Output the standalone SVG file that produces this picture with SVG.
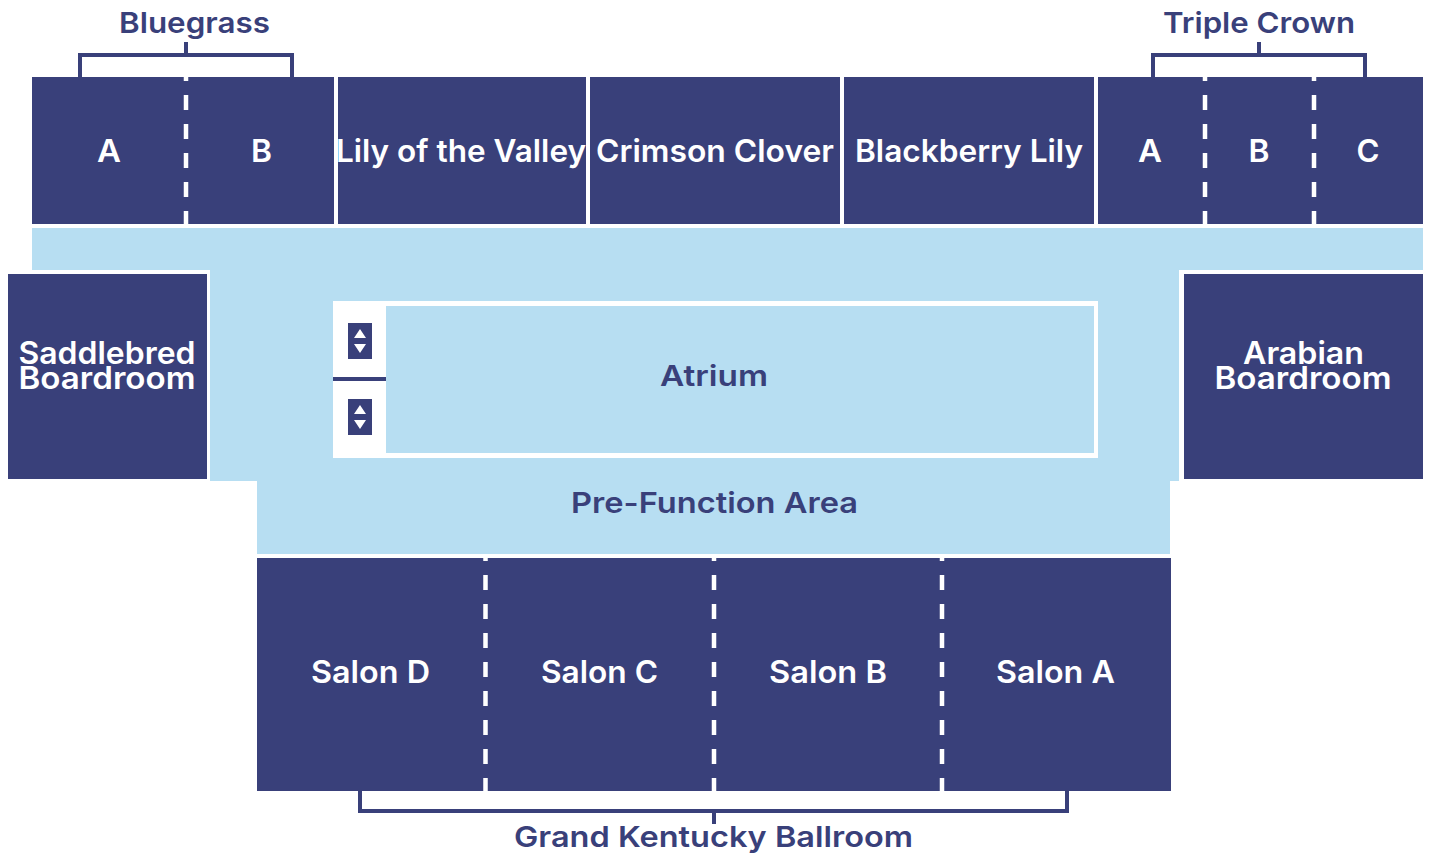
<svg xmlns="http://www.w3.org/2000/svg" width="1431" height="854" viewBox="0 0 1431 854">
<style>
.room{fill:#39407a}
.light{fill:#b7def2}
text{font-family:"Inter","Liberation Sans",sans-serif;text-anchor:middle}
.w{fill:#fff;font-size:31px;font-weight:600}
.d{fill:#39407a;font-size:29px;font-weight:600}
.top{stroke:#fff;stroke-width:4.500;fill:none;stroke-dasharray:15 14;stroke-dashoffset:11}
.low{stroke:#fff;stroke-width:4.500;fill:none;stroke-dasharray:15 14;stroke-dashoffset:12}
.br{stroke:#39407a;stroke-width:4;fill:none}
</style>
<rect width="1431" height="854" fill="#fff"/>
<g id="prefunction">
<path class="light" d="M32 228H1423V270H1179V481H1170V554H257V481H210V270H32Z"/>
<text class="d" x="714.500" y="513" textLength="287" lengthAdjust="spacingAndGlyphs">Pre-Function Area</text>
</g>
<g id="atrium">
<rect x="333" y="301" width="765" height="157" fill="#fff"/>
<rect class="light" x="386" y="306" width="708" height="147"/>
<text class="d" x="714" y="386" textLength="108" lengthAdjust="spacingAndGlyphs">Atrium</text>
</g>
<g id="stairs">
<rect x="333" y="377" width="53" height="4" fill="#39407a"/>
<rect class="room" x="348" y="323" width="24" height="36"/>
<path fill="#fff" d="M360 329l6 9h-12zM360 353l6-9h-12z"/>
<rect class="room" x="348" y="399" width="24" height="36"/>
<path fill="#fff" d="M360 405l6 9h-12zM360 429l6-9h-12z"/>
</g>
<g id="bluegrass">
<rect class="room" x="32" y="77" width="302" height="147"/>
<text class="w" x="109" y="162" textLength="24" lengthAdjust="spacingAndGlyphs">A</text>
<text class="w" x="261.500" y="162" textLength="21" lengthAdjust="spacingAndGlyphs">B</text>
</g>
<g id="lily-of-the-valley">
<rect class="room" x="338" y="77" width="248" height="147"/>
<text class="w" x="461" y="162" textLength="250" lengthAdjust="spacingAndGlyphs">Lily of the Valley</text>
</g>
<g id="crimson-clover">
<rect class="room" x="590" y="77" width="250" height="147"/>
<text class="w" x="715" y="162" textLength="238" lengthAdjust="spacingAndGlyphs">Crimson Clover</text>
</g>
<g id="blackberry-lily">
<rect class="room" x="844" y="77" width="250" height="147"/>
<text class="w" x="969" y="162" textLength="228" lengthAdjust="spacingAndGlyphs">Blackberry Lily</text>
</g>
<g id="triple-crown">
<rect class="room" x="1098" y="77" width="325" height="147"/>
<text class="w" x="1150" y="162" textLength="24" lengthAdjust="spacingAndGlyphs">A</text>
<text class="w" x="1259" y="162" textLength="21" lengthAdjust="spacingAndGlyphs">B</text>
<text class="w" x="1368" y="162" textLength="23" lengthAdjust="spacingAndGlyphs">C</text>
</g>
<g id="saddlebred">
<rect class="room" x="8" y="274" width="199" height="205"/>
<text class="w" x="107" y="364" textLength="177" lengthAdjust="spacingAndGlyphs">Saddlebred</text>
<text class="w" x="107" y="389" textLength="177" lengthAdjust="spacingAndGlyphs">Boardroom</text>
</g>
<g id="arabian">
<rect class="room" x="1184" y="274" width="239" height="205"/>
<text class="w" x="1303.500" y="364" textLength="121" lengthAdjust="spacingAndGlyphs">Arabian</text>
<text class="w" x="1303" y="389" textLength="177" lengthAdjust="spacingAndGlyphs">Boardroom</text>
</g>
<g id="grand-kentucky">
<rect class="room" x="257" y="558" width="914" height="233"/>
<text class="w" x="370.500" y="683" textLength="119" lengthAdjust="spacingAndGlyphs">Salon D</text>
<text class="w" x="599.500" y="683" textLength="117" lengthAdjust="spacingAndGlyphs">Salon C</text>
<text class="w" x="828" y="683" textLength="118" lengthAdjust="spacingAndGlyphs">Salon B</text>
<text class="w" x="1055.500" y="683" textLength="119" lengthAdjust="spacingAndGlyphs">Salon A</text>
</g>
<g id="labels">
<text class="d" x="194.500" y="33" textLength="151" lengthAdjust="spacingAndGlyphs">Bluegrass</text>
<text class="d" x="1259" y="33" textLength="192" lengthAdjust="spacingAndGlyphs">Triple Crown</text>
<text class="d" x="713.500" y="847" textLength="399" lengthAdjust="spacingAndGlyphs">Grand Kentucky Ballroom</text>
</g>
<g id="connectors">
<path class="top" d="M186 77V226"/>
<path class="top" d="M1205 77V226"/>
<path class="top" d="M1314 77V226"/>
<path class="low" d="M485.500 558V793"/>
<path class="low" d="M714 558V793"/>
<path class="low" d="M942 558V793"/>
<path class="br" d="M80 77V55H292V77M186 55V42"/>
<path class="br" d="M1153 77V55H1365V77M1259 55V42"/>
<path class="br" d="M360 791V811H1067V791M714 811V824"/>
</g>
</svg>
